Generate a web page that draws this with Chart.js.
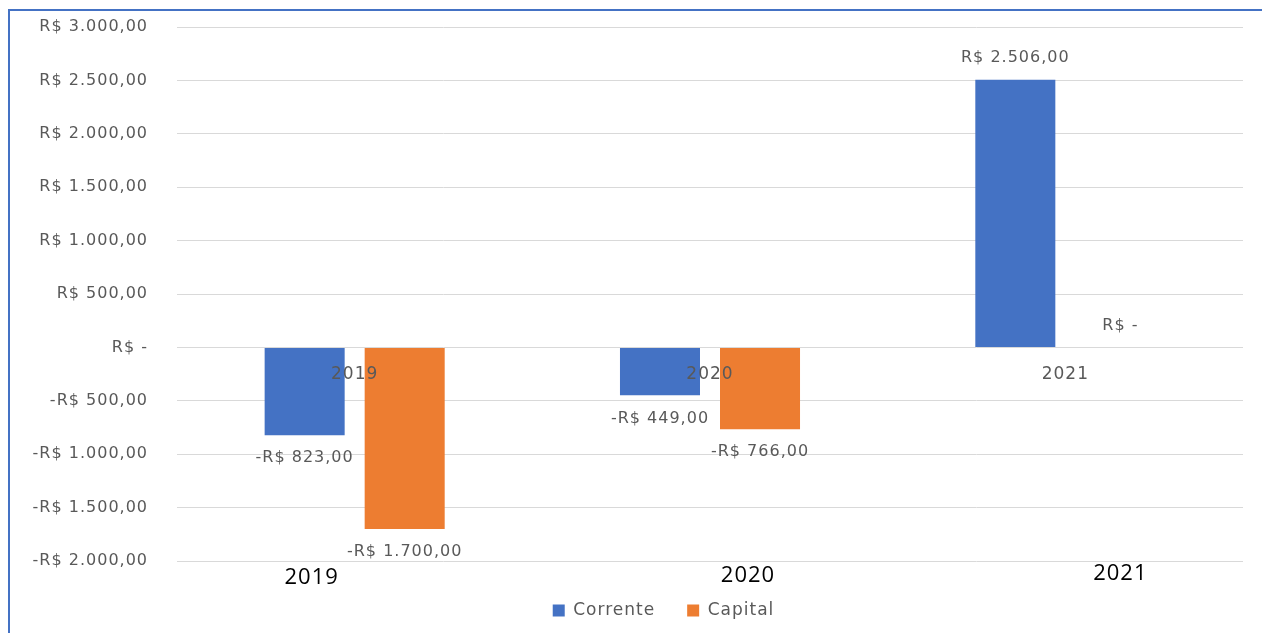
<!DOCTYPE html>
<html>
<head>
<meta charset="utf-8">
<script src="https://cdn.jsdelivr.net/npm/chart.js@4.4.1/dist/chart.umd.min.js"></script>
<style>
  html, body { margin: 0; padding: 0; background: #fff; }
  #wrap { width: 1262px; height: 633px; position: relative; }
</style>
</head>
<body>
<div id="wrap"><canvas id="chart"></canvas></div>
<script>
const years = ['2019', '2020', '2021'];
const corrente = [-823, -449, 2506];
const capital = [-1700, -766, 0];
const yMin = -2000;
const yMax = 3000;
const yStep = 500;

const blue = '#4472C4';
const orange = '#ED7D31';
const gray = '#595959';

// pt-BR currency, zero shown as "R$ -" like the Excel accounting format
function brl(v) {
    if (v === 0) return 'R$ -';
    const parts = Math.abs(v).toFixed(2).split('.');
    const int = parts[0].replace(/\B(?=(\d{3})+(?!\d))/g, '.');
    return (v < 0 ? '-' : '') + 'R$ ' + int + ',' + parts[1];
}

// the original text is a bit more spread out than DejaVu
function spacing(chart) {
    chart.ctx.letterSpacing = '1px';
}

const decorations = {
    id: 'decorations',
    beforeUpdate: spacing,
    beforeLayout: spacing,
    afterLayout(chart) {
        // legend in the original sits a little right of the page centre
        chart.legend.left += 42;
        chart.legend.right += 42;
    },
    beforeDraw(chart) {
        spacing(chart);
        const ctx = chart.ctx;
        ctx.save();
        ctx.strokeStyle = blue;
        ctx.lineWidth = 2;
        ctx.beginPath();
        ctx.moveTo(9, 633);
        ctx.lineTo(9, 10);
        ctx.lineTo(1262, 10);
        ctx.stroke();
        ctx.restore();
    },
    afterDatasetsDraw(chart) {
        const ctx = chart.ctx;
        ctx.save();
        ctx.textAlign = 'center';
        ctx.textBaseline = 'middle';
        ctx.fillStyle = gray;
        ctx.font = '16px "DejaVu Sans"';
        chart.data.datasets.forEach((ds, di) => {
            chart.getDatasetMeta(di).data.forEach((bar, i) => {
                const v = ds.data[i];
                const y = v < 0 ? bar.y + 23 : bar.y - 22;
                const dx = v === 0 ? 5 : 0;
                ctx.fillText(brl(v), bar.x + dx, y);
            });
        });
        // big year captions sitting under the plot, not quite centred
        const nudge = [-43, 38, 55];
        const lift = [0, 2, 4];
        const xs = chart.scales.x;
        ctx.fillStyle = '#000';
        ctx.font = '22px "Open Sans"';
        years.forEach((yr, i) => {
            ctx.fillText(yr, xs.getPixelForValue(i) + nudge[i], chart.chartArea.bottom + 17 - lift[i]);
        });
        ctx.restore();
    }
};

new Chart(document.getElementById('chart'), {
    type: 'bar',
    data: {
        labels: years,
        datasets: [
            { label: 'Corrente', data: corrente, backgroundColor: blue },
            { label: 'Capital', data: capital, backgroundColor: orange }
        ]
    },
    options: {
        responsive: true,
        maintainAspectRatio: false,
        animation: false,
        layout: { padding: { top: 27, right: 19, bottom: 4, left: 0 } },
        datasets: { bar: { categoryPercentage: 0.563, barPercentage: 0.8 } },
        scales: {
            x: {
                ticks: { display: false },
                grid: { display: false, drawTicks: false },
                border: { display: false },
                afterFit: s => { s.height = 9; }
            },
            xZero: {
                type: 'category',
                axis: 'x',
                labels: years,
                position: { y: 0 },
                ticks: { color: gray, font: { family: 'DejaVu Sans', size: 17 }, padding: 17, z: 1 },
                grid: { display: false, drawTicks: false },
                border: { display: false },
                afterFit: s => { s.height = 0; }
            },
            y: {
                min: yMin,
                max: yMax,
                ticks: {
                    stepSize: yStep,
                    callback: v => brl(v),
                    color: gray,
                    font: { family: 'DejaVu Sans', size: 16 },
                    padding: 4
                },
                grid: { color: '#D9D9D9', tickLength: 25, tickColor: 'rgba(0,0,0,0)' },
                border: { display: false },
                afterFit: s => { s.width = 177; }
            }
        },
        plugins: {
            legend: {
                position: 'bottom',
                labels: {
                    boxWidth: 12,
                    boxHeight: 12,
                    color: gray,
                    font: { family: 'DejaVu Sans', size: 17 },
                    padding: 32
                }
            },
            tooltip: { enabled: false }
        }
    },
    plugins: [decorations]
});
</script>
</body>
</html>
